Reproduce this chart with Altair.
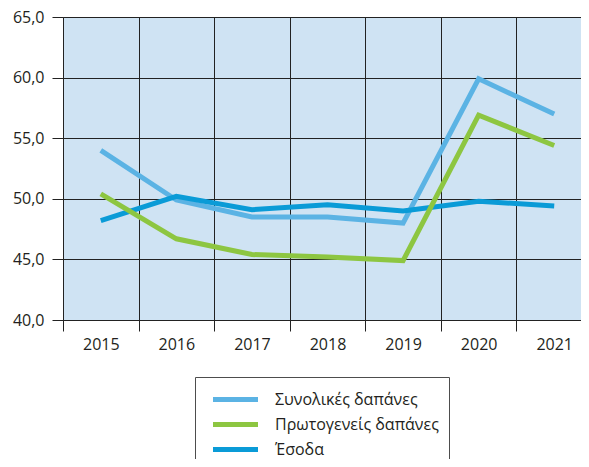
import altair as alt
import pandas as pd

years = ["2015", "2016", "2017", "2018", "2019", "2020", "2021"]
series_names = ["Συνολικές δαπάνες", "Πρωτογενείς δαπάνες", "Έσοδα"]
total = [54.0, 49.9, 48.5, 48.5, 48.0, 59.9, 57.0]
primary = [50.4, 46.7, 45.4, 45.2, 44.9, 56.9, 54.4]
revenue = [48.2, 50.2, 49.1, 49.5, 49.0, 49.8, 49.4]
colors = ["#5BB3E4", "#8DC641", "#0A9BD7"]
y_ticks = [40, 45, 50, 55, 60, 65]

rows = []
for name, vals in zip(series_names, [total, primary, revenue]):
    for yr, v in zip(years, vals):
        rows.append({"year": yr, "value": v, "series": name})
df = pd.DataFrame(rows)

FONT = "Open Sans"
TXT = "#231F20"
GRID = "#222222"

base = alt.Chart(df).mark_line(strokeWidth=5, strokeCap="butt", strokeJoin="miter").encode(
    x=alt.X(
        "year:O",
        bandPosition=0.5,
        scale=alt.Scale(type="band", paddingInner=0, paddingOuter=0, range=[0, 529]),
        axis=alt.Axis(
            title=None, tickBand="extent", grid=True, gridColor=GRID, gridWidth=1,
            tickColor=GRID, tickSize=11, tickWidth=1, domainColor=GRID, domainWidth=1,
            labelFont=FONT, labelFontSize=16, labelColor=TXT, labelPadding=5, labelAngle=0,
        ),
    ),
    y=alt.Y(
        "value:Q",
        scale=alt.Scale(domain=[40, 65], nice=False, zero=False),
        axis=alt.Axis(
            title=None, values=y_ticks, grid=True, gridColor=GRID, gridWidth=1,
            tickColor=GRID, tickSize=11, tickWidth=1, domainColor=GRID, domainWidth=1,
            labelFont=FONT, labelFontSize=16, labelColor=TXT, labelPadding=8,
            labelExpr="replace(format(datum.value, '.1f'), '.', ',')",
        ),
    ),
    color=alt.Color(
        "series:N",
        scale=alt.Scale(domain=series_names, range=colors),
        legend=alt.Legend(
            title=None, orient="none", legendX=132, legendY=360,
            symbolType="M-2.25,0H2.25", symbolSize=400, symbolStrokeWidth=5,
            symbolOffset=18, labelOffset=27, labelLimit=400,
            labelFont=FONT, labelFontSize=16, labelColor=TXT,
            padding=10, rowPadding=2, strokeColor="#4D4D4D", fillColor="white",
        ),
    ),
)

layers = [
    base.transform_filter(alt.datum.series == series_names[0]),
    base.transform_filter(alt.datum.series == series_names[2]),
    base.transform_filter(alt.datum.series == series_names[1]),
]

chart = alt.layer(*layers).properties(
    width=518, height=303,
    padding={"left": 55, "top": 9, "right": 0, "bottom": 139},
    autosize=alt.AutoSizeParams(type="none"),
).configure_view(fill="#CFE3F3", stroke=None)

chart.save("out.html", embed_options={"renderer": "svg", "actions": False})
